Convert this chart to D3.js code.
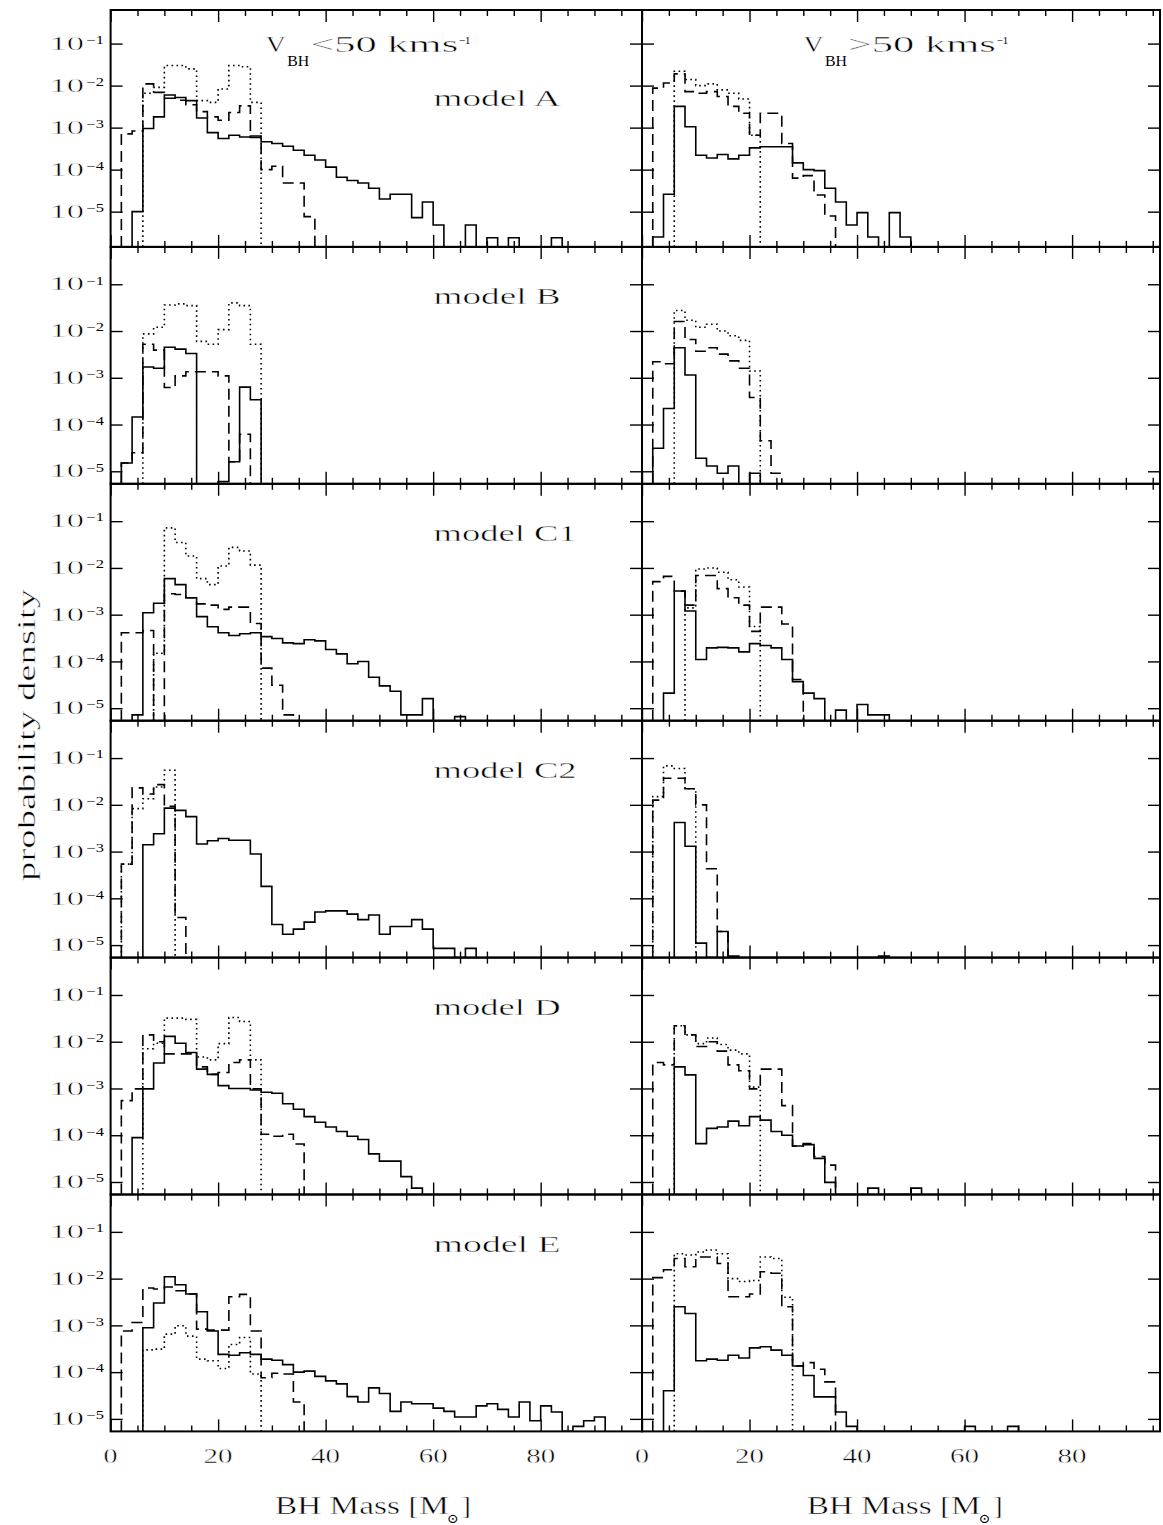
<!DOCTYPE html>
<html><head><meta charset="utf-8">
<script src="https://cdn.jsdelivr.net/npm/d3@7"></script>
<style>
body{margin:0;background:#fff}
svg{display:block;background:#fff}
text{font-family:"Liberation Serif","DejaVu Serif",serif;fill:#000}
text.thin{stroke:#fff;stroke-width:0.45px}
</style>
</head><body>
<svg id="chart" width="1163" height="1525"></svg>
<script>
// ---------------- data (probability density per 2 Msun bin, bins start at 0) ----------------
const binWidth = 2;
const models = ["A","B","C1","C2","D","E"];
const modelLabels = ["model A","model B","model C1","model C2","model D","model E"];
const columnLabels = ["<50 kms", ">50 kms"];
const xTickMajor = [0,20,40,60,80];
const xTickMinor = [5,10,15,25,30,35,45,50,55,65,70,75,85,90,95];
const yTickValues = [1e-1,1e-2,1e-3,1e-4,1e-5];
const yTickExponents = ["\u22121","\u22122","\u22123","\u22124","\u22125"];

const A_low_solid = [0,0,1.0e-5,9.5e-4,1.8e-3,6.0e-3,5.2e-3,4.4e-3,1.7e-3,7.6e-4,5.5e-4,6.6e-4,6.0e-4,6.3e-4,4.6e-4,4.2e-4,3.6e-4,2.9e-4,2.2e-4,1.7e-4,1.15e-4,6.6e-5,5.5e-5,4.8e-5,3.6e-5,2.0e-5,2.6e-5,2.6e-5,7.2e-6,1.7e-5,4.8e-6,0,0,4.8e-6,0,2.4e-6,0,2.4e-6,0,0,0,2.4e-6];
const A_low_dashed = [0,7.1e-4,8.3e-4,1.1e-2,6.9e-3,5.0e-3,4.5e-3,3.5e-3,2.4e-3,1.8e-3,1.5e-3,2.3e-3,3.3e-3,5.8e-4,1.0e-4,1.2e-4,4.8e-5,4.8e-5,7.6e-6];
const A_low_dotted = [0,0,0,6.6e-3,9.1e-3,3.0e-2,3.0e-2,2.5e-2,4.4e-3,4.0e-3,8.3e-3,3.0e-2,2.8e-2,4.0e-3];
const A_high_solid = [0,2.5e-6,2.6e-5,3.2e-3,1.05e-3,2.2e-4,1.9e-4,2.3e-4,1.8e-4,2.2e-4,3.3e-4,3.5e-4,3.5e-4,3.5e-4,1.45e-4,1.0e-4,9.5e-5,3.6e-5,1.7e-5,4.8e-6,9.5e-6,2.5e-6,0,9.5e-6,2.5e-6];
const A_high_dashed = [0,8.7e-3,1.15e-2,1.9e-2,7.2e-3,6.6e-3,7.2e-3,5.5e-3,3.2e-3,2.2e-3,6.6e-4,2.2e-3,2.2e-3,4.2e-4,6.3e-5,7.2e-5,2.5e-5,7.9e-6];
const A_high_dotted = [0,0,0,2.2e-2,1.4e-2,1.0e-2,1.1e-2,7.9e-3,6.6e-3,4.8e-3,6.6e-4];

const B_low_solid = [0,1.5e-5,1.45e-4,1.7e-3,1.6e-3,4.5e-3,4.1e-3,3.3e-3,0,0,6.0e-6,1.6e-5,6.3e-4,3.4e-4];
const B_low_dashed = [0,1.5e-5,2.5e-5,5.2e-3,3.9e-3,6.2e-4,1.1e-3,1.35e-3,1.35e-3,1.35e-3,1.1e-3,1.6e-5,6.2e-5];
const B_low_dotted = [0,0,0,8.7e-3,1.2e-2,3.6e-2,3.8e-2,3.5e-2,6.0e-3,5.2e-3,1.07e-2,4.0e-2,3.5e-2,5.2e-3];
const B_high_solid = [0,3.1e-5,2.2e-4,4.4e-3,1.15e-3,1.9e-5,1.3e-5,9.1e-6,1.3e-5,0,9.1e-6];
const B_high_dashed = [0,2.2e-3,2.0e-3,1.6e-2,6.6e-3,3.7e-3,4.4e-3,3.2e-3,2.3e-3,1.6e-3,3.8e-4,4.5e-5,9.1e-6];
const B_high_dotted = [0,0,0,2.75e-2,1.7e-2,1.2e-2,1.4e-2,1.0e-2,7.9e-3,6.3e-3,1.4e-3];

const C1_low_solid = [0,0,7.2e-6,1.1e-3,1.75e-3,5.9e-3,4.4e-3,2.3e-3,9.1e-4,5.5e-4,4.1e-4,3.6e-4,3.9e-4,4.1e-4,3.4e-4,3.1e-4,2.5e-4,2.4e-4,2.9e-4,2.75e-4,1.8e-4,1.45e-4,8.9e-5,1.0e-4,4.6e-5,3.0e-5,2.3e-5,7.2e-6,7.2e-6,1.6e-5,0,0,6.6e-6];
const C1_low_dashed = [0,4.1e-4,4.1e-4,4.6e-4,0,2.8e-3,2.7e-3,2.3e-3,1.7e-3,1.6e-3,1.3e-3,1.45e-3,1.45e-3,6.5e-4,7.2e-5,3.1e-5,7.2e-6];
const C1_low_dotted = [0,0,0,0,1.5e-4,7.2e-2,3.5e-2,1.8e-2,5.9e-3,4.4e-3,1.1e-2,2.75e-2,2.3e-2,1.15e-2];
const C1_high_solid = [0,0,2.1e-5,3.2e-3,1.2e-3,1.1e-4,1.95e-4,2.0e-4,1.95e-4,1.6e-4,2.4e-4,2.2e-4,1.95e-4,1.1e-4,3.7e-5,2.1e-5,1.6e-5,0,9.1e-6,0,1.2e-5,7.2e-6,7.2e-6];
const C1_high_dashed = [0,5.1e-3,6.6e-3,3.2e-3,1.6e-3,6.9e-3,6.9e-3,3.6e-3,2.3e-3,1.6e-3,4.4e-4,1.45e-3,1.45e-3,6.3e-4,4.1e-5];
const C1_high_dotted = [0,0,0,0,1.4e-3,9.5e-3,1.0e-2,8.1e-3,5.6e-3,3.9e-3,5.6e-4];

const C2_low_solid = [0,0,0,1.4e-3,2.4e-3,8.5e-3,7.6e-3,5.6e-3,1.45e-3,1.7e-3,1.9e-3,1.75e-3,1.75e-3,8.9e-4,1.8e-4,2.75e-5,1.7e-5,2.2e-5,3.1e-5,5.1e-5,5.4e-5,5.4e-5,4.6e-5,3.5e-5,4.4e-5,1.7e-5,2.5e-5,2.5e-5,3.5e-5,2.2e-5,8.5e-6,8.5e-6,0,8.5e-6];
const C2_low_dashed = [0,5.4e-4,2.3e-2,1.7e-2,2.7e-2,9.3e-3,3.9e-5];
const C2_low_dotted = [0,5.4e-4,8.3e-3,1.35e-2,2.4e-2,5.5e-2];
const C2_high_solid = [0,0,0,4.2e-3,1.3e-3,1.1e-5,0,1.95e-5,5.8e-6,0,0,0,0,0,0,0,0,0,0,0,0,0,5.8e-6];
const C2_high_dashed = [0,1.26e-2,3.7e-2,3.7e-2,2.2e-2,1.0e-2,4.3e-4,1.95e-5];
const C2_high_dotted = [0,1.5e-2,6.8e-2,6.0e-2,2.2e-2];

const D_low_solid = [0,0,8.9e-5,9.8e-4,3.5e-3,1.3e-2,9.3e-3,5.9e-3,2.6e-3,2.0e-3,1.15e-3,1.0e-3,1.0e-3,9.3e-4,8.3e-4,7.9e-4,4.7e-4,3.6e-4,2.5e-4,1.9e-4,1.5e-4,1.2e-4,9.5e-5,8.1e-5,4.0e-5,2.8e-5,2.8e-5,1.3e-5,7.4e-6];
const D_low_dashed = [0,5.5e-4,9.8e-4,1.4e-2,1.0e-2,5.5e-3,5.5e-3,5.5e-3,2.9e-3,2.0e-3,2.2e-3,3.6e-3,4.1e-3,9.8e-4,1.05e-4,9.5e-5,1.05e-4,6.5e-5];
const D_low_dotted = [0,0,0,7.1e-3,9.3e-3,3.2e-2,3.2e-2,3.0e-2,4.7e-3,4.1e-3,9.1e-3,3.3e-2,2.7e-2,4.1e-3];
const D_high_solid = [0,0,0,2.9e-3,1.95e-3,6.6e-5,1.4e-4,1.5e-4,2.0e-4,1.6e-4,2.5e-4,2.1e-4,1.2e-4,1.0e-4,5.9e-5,6.3e-5,3.2e-5,9.8e-6,0,0,0,7.4e-6,0,0,0,7.4e-6];
const D_high_dashed = [0,3.6e-3,3.2e-3,2.2e-2,1.4e-2,7.9e-3,1.0e-2,6.3e-3,3.2e-3,2.4e-3,9.8e-4,2.6e-3,2.6e-3,4.3e-4,5.9e-5,6.6e-5,3.5e-5,2.3e-5];
const D_high_dotted = [0,0,0,2.2e-2,1.4e-2,9.1e-3,1.2e-2,8.7e-3,6.6e-3,5.5e-3,1.07e-3];

const E_low_solid = [0,0,0,8.9e-4,3.0e-3,1.1e-2,7.4e-3,4.7e-3,1.95e-3,7.6e-4,2.4e-4,2.3e-4,2.6e-4,2.4e-4,1.9e-4,1.8e-4,1.45e-4,1.0e-4,1.05e-4,8.1e-5,6.5e-5,5.6e-5,3.0e-5,2.3e-5,4.6e-5,3.5e-5,1.45e-5,2.3e-5,2.1e-5,2.1e-5,1.7e-5,1.45e-5,1.1e-5,1.1e-5,1.9e-5,2.1e-5,1.6e-5,1.1e-5,2.3e-5,9.1e-6,1.9e-5,1.4e-5,0,6.9e-6,9.1e-6,1.1e-5];
const E_low_dashed = [0,7.6e-4,1.15e-3,6.3e-3,6.0e-3,6.6e-3,5.5e-3,4.7e-3,8.3e-4,7.9e-4,7.9e-4,4.1e-3,4.6e-3,7.6e-4,7.6e-5,9.5e-5,9.1e-5,2.3e-5];
const E_low_dotted = [0,0,0,3.0e-4,3.1e-4,6.5e-4,9.8e-4,5.9e-4,1.9e-4,1.75e-4,1.2e-4,3.9e-4,5.5e-4,9.1e-5];
const E_high_solid = [0,0,4.0e-5,2.5e-3,1.8e-3,1.75e-4,1.9e-4,1.8e-4,2.3e-4,2.0e-4,3.3e-4,3.5e-4,2.95e-4,2.3e-4,1.35e-4,8.5e-5,2.95e-5,2.95e-5,1.4e-5,6.9e-6,0,0,0,0,0,0,0,0,0,0,6.9e-6,0,0,0,6.9e-6];
const E_high_dashed = [0,1.05e-2,1.55e-2,2.7e-2,1.8e-2,2.9e-2,2.9e-2,2.1e-2,4.1e-3,4.1e-3,4.7e-3,1.4e-2,1.3e-2,2.5e-3,1.35e-4,1.6e-4,1.15e-4,6.2e-5];
const E_high_dotted = [0,0,0,3.4e-2,3.2e-2,3.7e-2,4.1e-2,3.4e-2,1.0e-2,8.7e-3,9.1e-3,2.9e-2,2.7e-2,4.0e-3];

// table built from the arrays
const table = {
  A:  {low:{solid:A_low_solid, dashed:A_low_dashed, dotted:A_low_dotted}, high:{solid:A_high_solid, dashed:A_high_dashed, dotted:A_high_dotted}},
  B:  {low:{solid:B_low_solid, dashed:B_low_dashed, dotted:B_low_dotted}, high:{solid:B_high_solid, dashed:B_high_dashed, dotted:B_high_dotted}},
  C1: {low:{solid:C1_low_solid, dashed:C1_low_dashed, dotted:C1_low_dotted}, high:{solid:C1_high_solid, dashed:C1_high_dashed, dotted:C1_high_dotted}},
  C2: {low:{solid:C2_low_solid, dashed:C2_low_dashed, dotted:C2_low_dotted}, high:{solid:C2_high_solid, dashed:C2_high_dashed, dotted:C2_high_dotted}},
  D:  {low:{solid:D_low_solid, dashed:D_low_dashed, dotted:D_low_dotted}, high:{solid:D_high_solid, dashed:D_high_dashed, dotted:D_high_dotted}},
  E:  {low:{solid:E_low_solid, dashed:E_low_dashed, dotted:E_low_dotted}, high:{solid:E_high_solid, dashed:E_high_dashed, dotted:E_high_dotted}}
};

// ---------------- layout ----------------
const svg = d3.select("#chart");
const rowTop = 10, rowH = 236.9;
const colRange = [[110.6, 642], [642, 1160]];
const xDomain = [[0, 98.85], [0, 96.35]];
const yDomainTop = [1.45e-6, 0.63];
const yDomainRest = [5.4e-6, 0.63];
const lineStyle = {
  solid:  {dash: null},
  dashed: {dash: "11,6"},
  dotted: {dash: "1.6,3.4"}
};

const defs = svg.append("defs");

// text helper: glyphs stretched horizontally to a measured width
function label(x, y, str, size, width, thin) {
  const t = svg.append("text").attr("x", x).attr("y", y).attr("font-size", size).text(str);
  if (width) t.attr("textLength", width).attr("lengthAdjust", "spacingAndGlyphs");
  if (thin) t.attr("class", "thin");
  return t;
}

function stepPath(values, x, y, ymin) {
  const f = values.findIndex(v => v > 0);
  let l = values.length - 1;
  while (l >= 0 && !(values[l] > 0)) l--;
  const pts = [[f * binWidth, ymin]];
  for (let i = f; i <= l; i++) pts.push([i * binWidth, Math.max(values[i], ymin)]);
  pts.push([(l + 1) * binWidth, Math.max(values[l], ymin)]);
  pts.push([(l + 1) * binWidth, ymin]);
  return d3.line().x(d => x(d[0])).y(d => y(d[1])).curve(d3.curveStepAfter)(pts);
}

models.forEach((m, r) => {
  const top = rowTop + r * rowH, bottom = top + rowH;
  const yDom = r === 0 ? yDomainTop : yDomainRest;
  const y = d3.scaleLog().domain(yDom).range([bottom, top]).clamp(true);
  ["low", "high"].forEach((v, c) => {
    const [x0, x1] = colRange[c];
    const x = d3.scaleLinear().domain(xDomain[c]).range([x0, x1]);
    const id = `clip-${m}-${v}`;
    defs.append("clipPath").attr("id", id).append("rect")
      .attr("x", x0).attr("y", top).attr("width", x1 - x0).attr("height", rowH);
    const g = svg.append("g").attr("clip-path", `url(#${id})`);
    ["dotted", "dashed", "solid"].forEach(s => {
      g.append("path")
        .attr("d", stepPath(table[m][v][s], x, y, yDom[0]))
        .attr("fill", "none").attr("stroke", "#000")
        .attr("stroke-width", 1.6)
        .attr("stroke-dasharray", lineStyle[s].dash);
    });
    // frame
    svg.append("rect").attr("x", x0).attr("y", top).attr("width", x1 - x0).attr("height", rowH)
      .attr("fill", "none").attr("stroke", "#000").attr("stroke-width", 2);
    // ticks (inward, all four sides)
    const tk = svg.append("g");
    const clean = gg => { gg.select(".domain").remove(); gg.selectAll("line").attr("stroke", "#000").attr("stroke-width", 1.4); };
    tk.append("g").attr("transform", `translate(0,${bottom})`)
      .call(d3.axisBottom(x).tickValues(xTickMajor).tickSize(-12).tickFormat("")).call(clean);
    tk.append("g").attr("transform", `translate(0,${bottom})`)
      .call(d3.axisBottom(x).tickValues(xTickMinor).tickSize(-6).tickFormat("")).call(clean);
    tk.append("g").attr("transform", `translate(0,${top})`)
      .call(d3.axisTop(x).tickValues(xTickMajor).tickSize(-12).tickFormat("")).call(clean);
    tk.append("g").attr("transform", `translate(0,${top})`)
      .call(d3.axisTop(x).tickValues(xTickMinor).tickSize(-6).tickFormat("")).call(clean);
    tk.append("g").attr("transform", `translate(${x0},0)`)
      .call(d3.axisLeft(y).tickValues(yTickValues).tickSize(-12).tickFormat("")).call(clean);
    tk.append("g").attr("transform", `translate(${x1},0)`)
      .call(d3.axisRight(y).tickValues(yTickValues).tickSize(-12).tickFormat("")).call(clean);

    // x tick labels on the bottom row
    if (r === models.length - 1) {
      xTickMajor.forEach(t => {
        const w = String(t).length === 1 ? 14 : 29;
        label(x(t) - w / 2, 1463, String(t), 22, w, true);
      });
    }
    // y tick labels on left panels
    if (c === 0) {
      yTickValues.forEach((t, i) => {
        const yy = y(t);
        label(49.6, yy + 6.2, "10", 18.5, 34.5, true);
        label(86.5, yy + 0.3, yTickExponents[i], 12, 17.5);
      });
    }
  });
  // model label
  const lab = modelLabels[r];
  label(433.6, top + (r === 0 ? 95.8 : 57.5), lab, 23.5, lab.length === 7 ? 127 : 143, true);
});

// velocity headers
[265.7, 803.4].forEach((x0, c) => {
  label(x0, 52, "V", 23, 20, true);
  label(x0 + 21.5, 65.5, "BH", 14.5, 22);
  label(x0 + 44.5, 52, columnLabels[c], 23, 148, true);
  label(x0 + 193.3, 44, "\u22121", 11, 11.5);
});

// x axis titles
[275, 806.7].forEach(x0 => {
  label(x0, 1514, "BH Mass [M", 25, 174, true);
  label(x0 + 172, 1523, "\u2299", 13, 12);
  label(x0 + 186, 1514, "]", 25, 10, true);
});

// y axis title
svg.append("text").attr("class", "thin").attr("transform", "translate(35,735) rotate(-90)")
  .attr("x", -146).attr("font-size", 25)
  .attr("textLength", 292).attr("lengthAdjust", "spacingAndGlyphs").text("probability density");
</script>
</body></html>
